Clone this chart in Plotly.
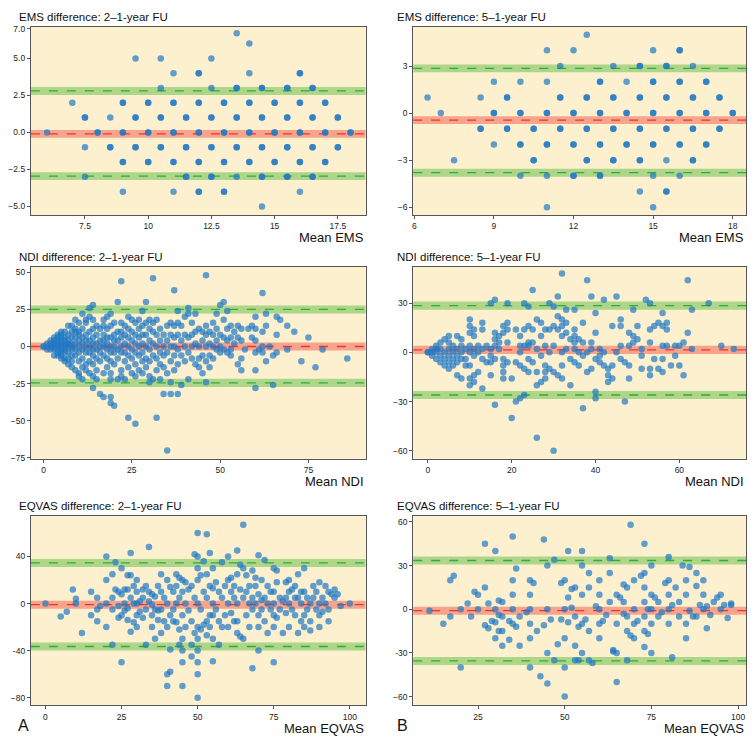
import plotly.graph_objects as go

# Bland-Altman data: mean value -> list of differences (repeats = overlapping points)
ems21 = {6: [0], 7: [2], 7.5: [1, 1, -1, -3], 8: [0, 0], 8.5: [1, -1, -1],
         9: [2, 2, 0, 0, -2, -2, -4], 9.5: [5, 1, 1, -1, -1], 10: [2, 2, 0, 0, -2, -2],
         10.5: [5, 3, 1, 1, -1, -1], 11: [4, 2, 2, 0, 0, -2, -2, -4],
         11.5: [1, 1, -1, -1, -3, -3], 12: [4, 4, 2, 2, 0, 0, -2, -2, -4, -4],
         12.5: [5, 3, 1, 1, -1, -1, -3, -3], 13: [2, 2, 0, 0, -2, -2, -4, -4],
         13.5: [6.7, 3, 3, 1, 1, -1, -1, -3], 14: [6, 4, 2, 2, 0, 0, -2, -2],
         14.5: [3, 3, 1, 1, -1, -1, -3, -3, -5], 15: [2, 2, 0, 0, -2, -2],
         15.5: [3, 3, 1, 1, -1, -1, -3, -3], 16: [4, 4, 2, 2, 0, 0, -2, -2, -4],
         16.5: [3, 3, 1, 1, -1, -1, -3, -3], 17: [2, 2, 0, 0, -2, -2], 17.5: [1, 1, -1, -1],
         18: [0, 0]}
ems51 = {6.5: [1], 7: [0], 7.5: [-3], 8.5: [1, -1, -1], 9: [2, 0, 0, -2],
         9.5: [1, 1, -1, -1], 10: [2, 0, 0, -2, -2, -4], 10.5: [-1, -1, -3, -3],
         11: [4, 2, 0, 0, -2, -2, -4, -6], 11.5: [3, 1, 1, -1, -1],
         12: [4, 0, 0, -2, -2, -4, -4], 12.5: [5, 1, 1, -1, -1, -3, -3],
         13: [2, 2, 0, 0, -2, -2, -4, -4], 13.5: [3, 1, 1, -1, -1, -3, -3],
         14: [2, 0, 0, -2, -2], 14.5: [3, 3, 1, 1, -1, -1, -3, -3, -5],
         15: [4, 2, 2, 0, 0, -2, -2, -4, -6], 15.5: [3, 3, 1, 1, -1, -1, -3, -5, -5],
         16: [4, 4, 2, 2, 0, 0, -2, -2, -4], 16.5: [3, 1, 1, -1, -1, -3, -3],
         17: [2, 2, 0, 0, -2, -2], 17.5: [1, 1, -1, -1], 18: [0, 0]}
ndi21 = {0: [0, 0], 1: [0, 2, -2], 2: [2, 0, -2, 4], 3: [4, 2, 0, -2, -6, 6],
         4: [6, 4, 2, 0, -2, -4, -6, 8], 5: [8, 6, 4, 2, 0, -2, -4, -8, 10, -6],
         6: [10, 6, 2, 0, -2, -4, -8, -10, 4], 7: [14, 8, 4, 0, -4, -8, -12, 2],
         8: [14, 10, 6, 2, -2, -6, -10, -14, 0], 9: [18, 12, 6, 2, -2, -6, -16, 10],
         10: [16, 10, 4, 0, -4, -10, -18, -20, 8], 11: [22, 12, 6, 2, -2, -8, -14, -22],
         12: [16, 8, 4, 0, -4, -12, -16, 18], 13: [26, 20, 10, 4, 0, -4, -10, -18],
         14: [28, 18, 12, 6, 2, -2, -6, -12, -20, -28], 15: [14, 8, 2, -2, -8, -16, -22],
         16: [12, 4, 0, -4, -10, -32], 17: [18, 14, 8, 4, 0, -6, -18, -34],
         18: [20, 12, 6, 2, -2, -8, -14], 19: [22, 14, 6, 0, -4, -10, -18, -22, -34, -38],
         20: [16, 8, 4, 0, -4, -12, -40], 21: [30, 10, 4, -2, -8, -22],
         22: [44, 16, 10, 6, 0, -4, -16, -20], 23: [14, 8, 2, -4, -10, -22],
         24: [20, 12, 6, 0, -6, -14, -48], 25: [18, 10, 4, -2, -8, -18],
         26: [16, 8, 2, -4, -12, -52, -20], 27: [18, 12, 6, 0, -6, -16],
         28: [24, 14, 8, 2, -4, -10, -18], 29: [30, 16, 8, 0, -8, -14],
         30: [18, 12, 4, -2, -10, -20, -24], 31: [46, 16, 10, 2, -6, -22],
         32: [18, 8, 0, -8, -16, -48], 33: [12, 4, -4, -12, -22], 34: [8, 0, -6, -14, -32],
         35: [14, 4, -4, -18, -70], 36: [16, 8, 0, -10, -24, -32], 37: [38, 14, 6, 0, -6, -16],
         38: [24, 16, 8, -2, -12, -32], 39: [14, 4, -6, -26], 40: [20, 8, 0, -10],
         41: [26, 22, 6, -4, -22], 42: [16, 8, 0, -8], 43: [22, 10, 2, -12],
         44: [12, 0, -8, -14], 45: [10, 4, -6, -18], 46: [48, 14, 8, 0, -10, -24],
         47: [10, 2, -6, -14], 48: [16, 8, 0, -8], 49: [22, 12, 4, -2], 50: [28, 8, 0, -4],
         51: [30, 18, 6, -2], 52: [24, 12, 4, -4], 53: [14, 6, -2, -6], 54: [10, 2],
         55: [14, 6, -12], 56: [12, 4, -8, -16], 57: [-2], 58: [12], 59: [6, 14],
         60: [20, 12, 4, -4, -16, -28], 61: [-2], 62: [36, 10, 0, -4], 63: [22, 14, -10],
         64: [0], 65: [-6, -26], 66: [20, 8, -4], 67: [18], 69: [14, -2], 71: [10],
         73: [-10], 75: [6], 77: [-14], 79: [-2], 86: [-8]}
ndi51 = {0: [0, 0], 1: [2, -2, 0], 2: [4, 2, 0, -4], 3: [6, 2, -2, -6], 4: [8, 0, -4, -8],
         5: [10, 6, 2, -2, -6, -10], 6: [4, 0, -4, -8], 7: [10, 2, -2, -6, -14],
         8: [8, 4, 0, -4, -16], 9: [2, -4, -8], 10: [20, 16, 12, 4, 0, -8, -16, -20],
         11: [14, 10, 2, -2, -14, -18], 12: [4, 0, -12], 13: [18, 14, 2, -4, -22],
         14: [4, -6], 15: [30, 2, -2, -6, -14], 16: [32, 12, 8, 4, -4, -32], 17: [10, 6, 2],
         18: [16, 12, -4, -8, -12, -16], 19: [30, 18, 14, 6, -6], 20: [-16, -40],
         21: [14, -6, -30], 22: [10, 4, 0, -8, -28], 23: [30, 14, 4, -10, -26],
         24: [28, 16, 6, 4, -4, -12], 25: [38, 14, 6, -6], 26: [20, 2, -12, -20, -52],
         27: [18, 10, -2, -18], 28: [14, 4, -8, -12, -16], 29: [30, 14, 0, -10],
         30: [28, 16, 4, -12, -60], 31: [34, 22, 14, -14], 32: [48, 20, 16, 10, 0, -8, -16],
         33: [26, 18, 12, 2], 34: [8, -4, -20], 35: [26, 14, 10, 6, 2, -6], 36: [8, 0, -8],
         37: [18, 6, -2, -34], 38: [44, 0, -12], 39: [34, 6, 2, -10], 40: [24, 12, -4, -24, -28],
         41: [2, -2, -6], 42: [32, 0, -8], 43: [-10, -14, -18], 44: [16, -8, -16], 45: [34, 0],
         46: [20, 16, 4, -4], 47: [-6, -30], 48: [12, 4, -8, -16], 49: [26, 10, 6], 50: [16, 8],
         51: [2, -2, -10], 52: [32], 53: [30, 14, 6, -10, -14], 54: [16, -4], 55: [18, -10],
         56: [24, 16, 4, -4, -12], 57: [18, 14, 4], 58: [-8], 59: [4, -2], 60: [4, -8],
         61: [6, -14], 62: [44, 12], 63: [26, 2], 67: [30], 70: [4], 73: [2]}
eqvas21 = {0: [0], 5: [-11], 7: [-7], 9: [12], 10: [4, 0], 12: [-25], 15: [10, -10],
           17: [5, -5, -15], 18: [-2], 20: [40, 20, 0, -20], 22: [25, 5, -5, -35], 23: [35, 12],
           24: [10, -2, -12], 25: [30, 8, -10, -50], 26: [12, 0, -6], 27: [24, 12, -4, -14],
           28: [43, 24, 5, -24], 29: [15, 0, -16], 30: [20, 10, 0, -10, -20], 31: [-7, 2],
           32: [12, 5, -12], 33: [15, -5, -35], 34: [48, 10, 2], 35: [8, -1, -10, -20],
           36: [6, -5, -30], 37: [15, -6, -14], 38: [25, 10, -5, -25], 39: [5, -15],
           40: [20, 0, -20, -60, -70], 41: [14, -10, -39, -58], 42: [10, -5, -15],
           43: [25, 15, 0, -16], 44: [22, 5, -22, -35], 45: [20, 10, -10, -30, -40, -50, -70],
           46: [18, 0, -20], 47: [12, -6], 48: [15, -15, -35, -45], 49: [42, 5, -25],
           50: [60, 40, 30, 20, 0, -20, -30, -40, -50, -60, -80], 51: [24, -5, -22],
           52: [36, 10, -18], 53: [59, 25, 5, -15, -27], 54: [43, 15, -10, -20],
           55: [30, 13, 0, -10, -30, -49], 56: [18, -5], 57: [10, -15, -35], 58: [35, 5, -20],
           59: [15, -10], 60: [40, 20, 0, -20], 61: [22, 10, -8], 62: [15, 5, -15],
           63: [45, 25, 0, -15, -25], 64: [33, 12, -28], 65: [67, 30, 5, -30], 66: [24, 10, -10],
           67: [15, 0, -20], 68: [28, 5, -5, -55], 69: [22, 15, 0], 70: [41, 8, -10, -20, -40],
           71: [20, 3, -5], 72: [37, 5, -15], 73: [15, 0, -25], 74: [10, -5],
           75: [30, 10, 0, -10, -20, -50], 76: [28, 18, -12], 77: [5, -5], 78: [2, -25],
           79: [18, 5, -8], 80: [20, 10, 0, -20], 81: [12, -5], 82: [15, 5, -10],
           83: [25, 5, -25], 84: [10, 0, -15], 85: [30, 10, -10, -20], 86: [5, -5],
           87: [0, -15, -23], 88: [15, 5], 89: [10, -5], 90: [18, 0, -10, -20], 91: [5, -7],
           92: [15, 0], 93: [10, -5, -15], 94: [8], 95: [12, 5], 96: [8], 97: [-2], 100: [0]}
eqvas51 = {11: [-1], 15: [-10], 17: [-5, 20], 18: [23], 20: [0, -40], 22: [4], 23: [-5],
           24: [12], 25: [10, 0], 27: [45, 15, -11], 28: [4, -13], 29: [-8], 30: [40, -20, 0, -9],
           31: [6, -4, -15], 32: [5, -5, -15, -25], 34: [-8, -21], 35: [50, 20, 10, 0, -10],
           36: [28, -12], 37: [-5, -25], 39: [-2], 40: [20, 10, 0, -10, -20, -40], 41: [18],
           42: [-15], 43: [-46], 44: [48, -11], 45: [30, 0, -30, -51], 46: [-7], 47: [34, -35],
           48: [-24], 49: [18, -7], 50: [20, 0, -20, -40, -60], 51: [40, 8, -9], 52: [14, 1],
           53: [15, -5, -25, -35], 54: [-12, -35], 55: [40, 30, 10, -10, -30], 56: [-7],
           57: [25, 15, -15, -35], 58: [-37], 59: [2], 60: [20, 10, 0, -10, -20], 61: [-8],
           62: [-4], 63: [35, 25, 5], 64: [-28, -29], 65: [10, -10, -30, -50], 66: [8],
           67: [17, 5, -3], 68: [15, -5, -15, -35], 69: [58, -18], 70: [20, 0, -10, -20],
           71: [-8], 72: [23], 73: [45, 25, 15, 5, -5, -15, -26], 74: [0, -17],
           75: [30, 10, 0, -10, -30], 76: [8], 77: [5, -5], 78: [-2], 79: [18],
           80: [36, 20, 10, 0, -10], 81: [3, -33], 82: [15], 83: [5, -5], 84: [30],
           85: [20, 10, -10, -20], 86: [29, -1], 87: [-5], 88: [25, 16, -5], 89: [3],
           90: [20, 10, 0], 91: [2, -13], 92: [-4], 93: [5], 94: [8], 95: [10, 0], 96: [3],
           97: [-6], 98: [3, 4]}

titles = ["EMS difference: 2\u20131-year FU", "EMS difference: 5\u20131-year FU",
          "NDI difference: 2\u20131-year FU", "NDI difference: 5\u20131-year FU",
          "EQVAS difference: 2\u20131-year FU", "EQVAS difference: 5\u20131-year FU"]
xlabels = ["Mean EMS", "Mean EMS", "Mean NDI", "Mean NDI", "Mean EQVAS", "Mean EQVAS"]
bias = [-0.1, -0.45, 0, 1.5, -1, -1]
loa_hi = [2.8, 2.85, 25, 28.5, 34.5, 33.5]
loa_lo = [-2.95, -3.8, -24.5, -26, -36.5, -35.5]
xranges = [[5.36, 18.6], [5.96, 18.5], [-3.6, 91.2], [-3.5, 75.9], [-4.8, 105.2], [6.3, 102.3]]
yranges = [[-5.58, 7.13], [-6.5, 5.5], [-75.6, 53.9], [-64.8, 52.3], [-86.5, 74.3], [-66, 64]]
xticks = [[7.5, 10, 12.5, 15, 17.5], [6, 9, 12, 15, 18], [0, 25, 50, 75], [0, 20, 40, 60],
          [0, 25, 50, 75, 100], [25, 50, 75, 100]]
xticktext = [["7.5", "10", "12.5", "15", "17.5"], None, None, None, None, None]
yticks = [[-5, -2.5, 0, 2.5, 5, 7], [-6, -3, 0, 3], [-75, -50, -25, 0, 25, 50],
          [-60, -30, 0, 30], [-80, -40, 0, 40], [-60, -30, 0, 30, 60]]
yticktext = [["\u22125.0", "\u22122.5", "0.0", "2.5", "5.0", "7.0"], ["\u22126", "\u22123", "0", "3"],
             ["\u221275", "\u221250", "-25", "0", "25", "50"], ["\u221260", "\u221230", "0", "30"],
             ["\u221280", "-40", "0", "40"], ["\u221260", "-30", "0", "30", "60"]]
panels = [ems21, ems51, ndi21, ndi51, eqvas21, eqvas51]

# page body has an 8px margin, so the figure is drawn 8px in from the window corner
OFF = 8
FW, FH = 755 - 2 * OFF, 749 - 2 * OFF


def px(x):
    return min(max((x - OFF) / FW, 0), 1)


def py(y):
    return min(max(1 - (y - OFF) / FH, 0), 1)


xdom = [[px(24), px(362)], [px(410), px(746)]]
ypix = [[24, 214], [266, 460], [518, 709]]

fig = go.Figure()
shapes, annotations = [], []
for i, data in enumerate(panels):
    r, c = divmod(i, 2)
    n = "" if i == 0 else str(i + 1)
    xs = [m for m, ds in data.items() for _ in ds]
    ys = [d for ds in data.values() for d in ds]
    fig.add_trace(go.Scatter(x=xs, y=ys, mode="markers", xaxis="x" + n, yaxis="y" + n,
                             marker=dict(size=6.5, color="#1f78c4", opacity=0.7),
                             showlegend=False, hoverinfo="skip"))
    band = (yranges[i][1] - yranges[i][0]) * 0.021
    for v, fillc, linec in [(bias[i], "rgba(245,130,110,0.7)", "#e8382d"),
                            (loa_hi[i], "rgba(130,200,100,0.65)", "#34a843"),
                            (loa_lo[i], "rgba(130,200,100,0.65)", "#34a843")]:
        shapes.append(dict(type="rect", xref="x" + n + " domain", yref="y" + n, x0=0, x1=1,
                           y0=v - band, y1=v + band, fillcolor=fillc, line_width=0, layer="below"))
        shapes.append(dict(type="line", xref="x" + n + " domain", yref="y" + n, x0=0, x1=1,
                           y0=v, y1=v, line=dict(color=linec, width=1.3, dash="dash"), layer="below"))
    y0p, y1p = ypix[r]
    axfont = dict(size=8.5, color="#222")
    fig.update_layout(**{
        "xaxis" + n: dict(domain=xdom[c], anchor="y" + n, range=xranges[i], tickvals=xticks[i],
                          ticktext=xticktext[i], showgrid=False, zeroline=False, showline=True,
                          mirror=True, linecolor="#555", linewidth=1, ticks="outside",
                          ticklen=3, tickcolor="#555", tickfont=axfont),
        "yaxis" + n: dict(domain=[py(y1p), py(y0p)], anchor="x" + n, range=yranges[i],
                          tickvals=yticks[i], ticktext=yticktext[i], showgrid=False,
                          zeroline=False, showline=True, mirror=True, linecolor="#555",
                          linewidth=1, ticks="outside", ticklen=3, tickcolor="#555",
                          tickfont=axfont),
    })
    annotations.append(dict(xref="paper", yref="paper", x=px(10 if c == 0 else 392),
                            y=py(y0p - 10), text=titles[i], showarrow=False,
                            xanchor="left", yanchor="middle",
                            font=dict(size=11.5, color="#111")))
    annotations.append(dict(xref="paper", yref="paper", x=xdom[c][1], y=py(y1p + 23),
                            text=xlabels[i], showarrow=False, xanchor="right", yanchor="middle",
                            font=dict(size=13, color="#111")))
annotations.append(dict(xref="paper", yref="paper", x=px(9), y=py(740), text="A",
                        showarrow=False, xanchor="left", yanchor="bottom",
                        font=dict(size=16, color="#111")))
annotations.append(dict(xref="paper", yref="paper", x=px(392), y=py(740), text="B",
                        showarrow=False, xanchor="left", yanchor="bottom",
                        font=dict(size=16, color="#111")))

fig.update_layout(width=FW, height=FH, margin=dict(l=0, r=0, t=0, b=0),
                  paper_bgcolor="white", plot_bgcolor="#fdf0cf",
                  font=dict(family="Liberation Sans, Arial, sans-serif"),
                  shapes=shapes, annotations=annotations)
fig.write_html("out.html")
